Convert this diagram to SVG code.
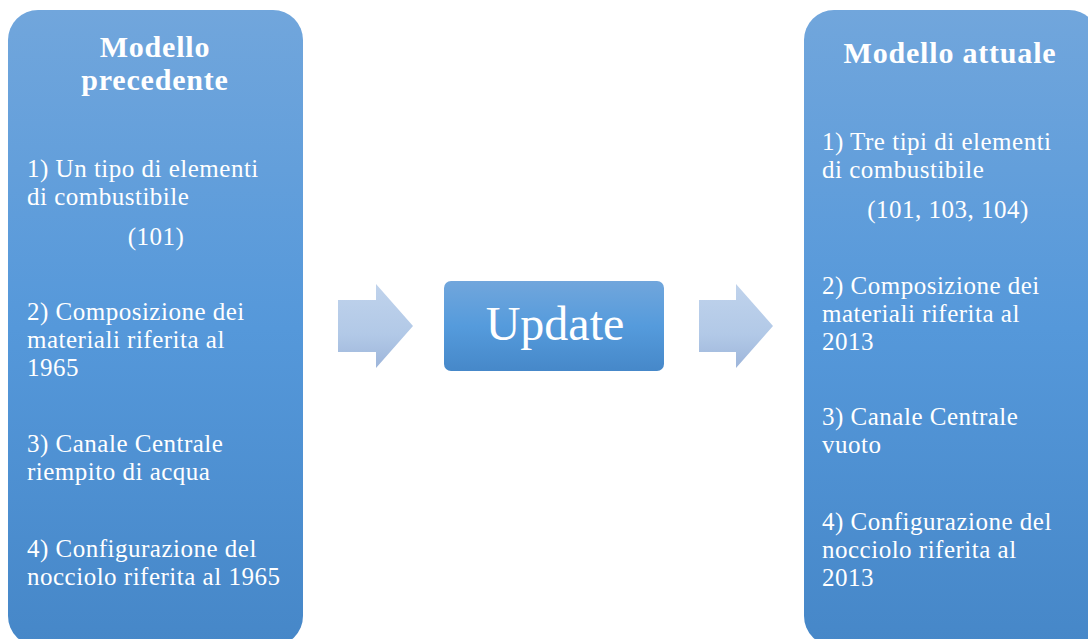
<svg xmlns="http://www.w3.org/2000/svg" width="1088" height="639" viewBox="0 0 1088 639">
<defs>
<linearGradient id="gBox" x1="0" y1="0" x2="0" y2="1">
<stop offset="0" stop-color="#71a6dc"/>
<stop offset="0.5" stop-color="#5598da"/>
<stop offset="1" stop-color="#4687c8"/>
</linearGradient>
<linearGradient id="gUp" x1="0" y1="0" x2="0" y2="1">
<stop offset="0" stop-color="#71a6dc"/>
<stop offset="0.5" stop-color="#559bdc"/>
<stop offset="1" stop-color="#4688c9"/>
</linearGradient>
<linearGradient id="gArr" x1="0" y1="0" x2="0" y2="1">
<stop offset="0" stop-color="#c0d3ec"/>
<stop offset="0.6" stop-color="#b2c9e7"/>
<stop offset="1" stop-color="#9db5da"/>
</linearGradient>
</defs>
<style>
text{font-family:"Liberation Serif","Times New Roman",serif;fill:#ffffff}
.h{font-size:30px;font-weight:bold;text-anchor:middle;letter-spacing:0.8px}
.b{font-size:25px;letter-spacing:0.5px}
.c{text-anchor:middle}
</style>
<rect width="1088" height="639" fill="#ffffff"/>
<g id="left">
<rect x="8" y="10" width="295" height="636" rx="30" fill="url(#gBox)"/>
<text class="h" x="155" y="57">Modello</text>
<text class="h" x="155" y="90">precedente</text>
<text class="b" x="27" y="177">1) Un tipo di elementi</text>
<text class="b" x="27" y="205">di combustibile</text>
<text class="b c" x="156" y="245">(101)</text>
<text class="b" x="27" y="320">2) Composizione dei</text>
<text class="b" x="27" y="348">materiali riferita al</text>
<text class="b" x="27" y="376">1965</text>
<text class="b" x="27" y="452">3) Canale Centrale</text>
<text class="b" x="27" y="480">riempito di acqua</text>
<text class="b" x="27" y="557">4) Configurazione del</text>
<text class="b" x="27" y="585">nocciolo riferita al 1965</text>
</g>
<g id="update">
<rect x="444" y="281" width="220" height="90" rx="7" fill="url(#gUp)"/>
<text x="555" y="340" style="font-size:48px;text-anchor:middle">Update</text>
</g>
<g id="right">
<rect x="804" y="10" width="295" height="636" rx="30" fill="url(#gBox)"/>
<text class="h" x="950" y="63">Modello attuale</text>
<text class="b" x="822" y="150">1) Tre tipi di elementi</text>
<text class="b" x="822" y="178">di combustibile</text>
<text class="b c" x="948" y="218">(101, 103, 104)</text>
<text class="b" x="822" y="294">2) Composizione dei</text>
<text class="b" x="822" y="322">materiali riferita al</text>
<text class="b" x="822" y="350">2013</text>
<text class="b" x="822" y="425">3) Canale Centrale</text>
<text class="b" x="822" y="453">vuoto</text>
<text class="b" x="822" y="530">4) Configurazione del</text>
<text class="b" x="822" y="558">nocciolo riferita al</text>
<text class="b" x="822" y="586">2013</text>
</g>
<g id="connectors">
<path d="M338 300 H376 V284 L413 326 L376 368 V352 H338 Z" fill="url(#gArr)"/>
<path d="M699 300 H736 V284 L773 326 L736 368 V352 H699 Z" fill="url(#gArr)"/>
</g>
</svg>
